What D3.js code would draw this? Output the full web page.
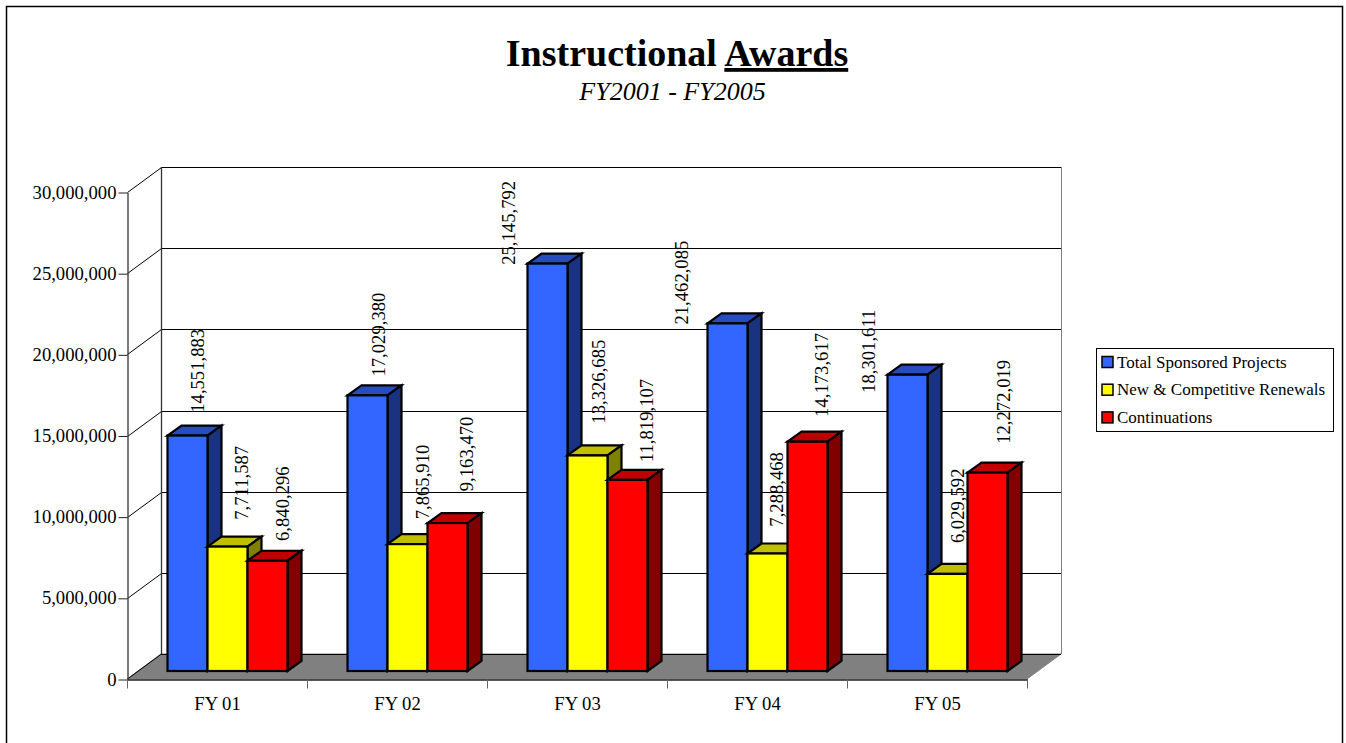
<!DOCTYPE html>
<html>
<head>
<meta charset="utf-8">
<title>Instructional Awards</title>
<script src="https://cdn.jsdelivr.net/npm/d3@7/dist/d3.min.js"></script>
<style>
  html, body { margin: 0; padding: 0; background: #fff; }
  svg { display: block; font-family: "Liberation Serif", "Times New Roman", serif; }
  text { fill: #000; }
</style>
</head>
<body>
<div id="chart"></div>
<script>
  /* --- dados ----------------------------------------------------------- */
  const years = ['FY 01', 'FY 02', 'FY 03', 'FY 04', 'FY 05'];
  const seriesNames = ['Total Sponsored Projects', 'New & Competitive Renewals', 'Continuations'];
  const totalSponsored = [14551883, 17029380, 25145792, 21462085, 18301611];
  const newCompetitive = [7711587, 7865910, 13326685, 7288468, 6029592];
  const continuations = [6840296, 9163470, 11819107, 14173617, 12272019];
  const yTicks = [0, 5000000, 10000000, 15000000, 20000000, 25000000, 30000000];

  /* --- cores: frente, topo, lado --------------------------------------- */
  const faces = [
    ['#3366ff', '#264cbf', '#1a3380'],
    ['#ffff00', '#bfbf00', '#808000'],
    ['#ff0000', '#bf0000', '#800000']
  ];
  const values = [totalSponsored, newCompetitive, continuations];

  /* deslocamento de cada rótulo: x a partir da esquerda da barra, y acima do topo */
  const labelDx = [[37, 38, -12, -19, -12], [41, 42, 38, 36, 37], [42, 46, 46, 41, 43]];
  const labelGap = [[22, 18, -2, -2, -19], [26, 24, 31, 26, 30], [19, 31, 17, 24, 28]];

  const W = 1346, H = 743;
  const plotL = 127, plotR = 1027, plotB = 679, plotT = 192;
  const wallDx = 34, wallDy = -25;     // profundidade das paredes
  const barDx = 14, barDy = -10;       // profundidade das barras
  const barW = 40;
  const tickFont = 18.67;

  const svg = d3.select('#chart').append('svg').attr('width', W).attr('height', H);

  const x = d3.scaleBand().domain(years).range([plotL, plotR]);
  const y = d3.scaleLinear().domain([0, 30000000]).range([plotB, plotT]);

  /* moldura: a borda inferior fica fora da página */
  svg.append('path').attr('d', 'M6.5,' + H + 'V6.5H1342.5V' + H)
    .attr('fill', 'none').attr('stroke', '#000').attr('stroke-width', 1.5);

  /* --- título ---------------------------------------------------------- */
  const title = svg.append('text').attr('x', 677).attr('y', 66)
    .attr('text-anchor', 'middle').attr('font-size', 38).attr('font-weight', 700);
  title.append('tspan').text('Instructional ');
  title.append('tspan').attr('text-decoration', 'underline').text('Awards');
  svg.append('text').attr('x', 672.5).attr('y', 100).attr('text-anchor', 'middle')
    .attr('font-size', 26).attr('font-style', 'italic').text('FY2001 - FY2005');

  /* --- paredes e piso -------------------------------------------------- */
  const p = (a, b) => a + ',' + b;
  svg.append('polygon')
    .attr('points', [p(plotL, plotB), p(plotL + wallDx, plotB + wallDy),
                     p(plotR + wallDx, plotB + wallDy), p(plotR, plotB)].join(' '))
    .attr('fill', '#808080').attr('stroke', '#808080');

  const grid = svg.append('g').attr('fill', 'none').attr('stroke', '#000');
  yTicks.slice(1).forEach(function (t) {
    const gy = Math.round(y(t));
    grid.append('polyline')
      .attr('points', [p(plotL + 0.5, gy + 0.5), p(plotL + wallDx + 0.5, gy + wallDy + 0.5),
                       p(plotR + wallDx, gy + wallDy + 0.5)].join(' '));
  });
  grid.append('line').attr('x1', plotL + wallDx + 0.5).attr('x2', plotL + wallDx + 0.5)
    .attr('y1', plotT + wallDy).attr('y2', plotB + wallDy).attr('stroke', '#333').attr('stroke-width', 1.3);
  grid.append('line').attr('x1', plotR + wallDx + 0.5).attr('x2', plotR + wallDx + 0.5)
    .attr('y1', plotT + wallDy).attr('y2', plotB + wallDy).attr('stroke', '#808080');
  grid.append('line').attr('x1', plotL + wallDx).attr('x2', plotR + wallDx)
    .attr('y1', plotB + wallDy + 0.5).attr('y2', plotB + wallDy + 0.5);
  grid.append('line').attr('x1', plotL + 0.5).attr('x2', plotL + wallDx + 0.5)
    .attr('y1', plotB).attr('y2', plotB + wallDy);

  /* --- eixos ----------------------------------------------------------- */
  const yAxis = svg.append('g').attr('transform', 'translate(' + (plotL + 0.5) + ',0.5)')
    .call(d3.axisLeft(y).tickValues(yTicks).tickFormat(d3.format(',')).tickSize(9).tickSizeOuter(0).tickPadding(2));
  const xAxis = svg.append('g').attr('transform', 'translate(0.5,' + (plotB + 0.5) + ')')
    .call(d3.axisBottom(x).tickSize(0).tickPadding(17));
  xAxis.selectAll('.edge').data(d3.range(years.length + 1)).join('line')
    .attr('class', 'edge').attr('stroke', '#666')
    .attr('x1', i => plotL + i * x.step()).attr('x2', i => plotL + i * x.step())
    .attr('y1', 0).attr('y2', 9);
  [yAxis, xAxis].forEach(function (a) {
    a.attr('font-family', null).attr('font-size', null);
    a.selectAll('text').attr('font-size', tickFont).attr('fill', '#000');
    a.selectAll('.tick line').attr('stroke', '#222');
  });
  yAxis.select('.domain').attr('stroke', '#333').attr('stroke-width', 1.3);
  xAxis.select('.domain').attr('stroke', '#222').attr('stroke-width', 1.3);
  yAxis.selectAll('text').attr('dy', '0.3em');

  /* --- barras 3D ------------------------------------------------------- */
  const shiftX = 40.5, shiftY = -8;    // recuo das barras sobre o piso
  const y0 = y(0) + shiftY;
  const bars = svg.append('g').attr('stroke', '#000').attr('stroke-width', 2.2).attr('stroke-linejoin', 'miter');
  const labels = svg.append('g');

  years.forEach(function (yr, i) {
    values.forEach(function (vals, s) {
      const bx = x(yr) + shiftX + s * barW;
      const ty = y(vals[i]) + shiftY;
      const drawnTop = ty + 0.8;       // a face da frente fica ~1px abaixo da escala
      const g = bars.append('g');
      g.append('polygon')
        .attr('points', [p(bx, drawnTop), p(bx + barDx, drawnTop + barDy), p(bx + barW + barDx, drawnTop + barDy), p(bx + barW, drawnTop)].join(' '))
        .attr('fill', faces[s][1]);
      g.append('polygon')
        .attr('points', [p(bx + barW, drawnTop), p(bx + barW + barDx, drawnTop + barDy), p(bx + barW + barDx, y0 + barDy), p(bx + barW, y0)].join(' '))
        .attr('fill', faces[s][2]);
      g.append('rect').attr('x', bx).attr('y', drawnTop).attr('width', barW).attr('height', y0 - drawnTop)
        .attr('fill', faces[s][0]);

      const lx = x(yr) + 40 + s * barW + labelDx[s][i], ly = ty - labelGap[s][i];
      labels.append('text')
        .attr('transform', 'translate(' + lx + ',' + ly + ') rotate(-90)')
        .attr('font-size', tickFont).text(d3.format(',')(vals[i]));
    });
  });

  /* --- legenda --------------------------------------------------------- */
  const legend = svg.append('g');
  legend.append('rect').attr('x', 1096.5).attr('y', 348.5).attr('width', 237).attr('height', 83)
    .attr('fill', '#fff').attr('stroke', '#000');
  seriesNames.forEach(function (name, s) {
    const ly = 362 + s * 27.7;
    legend.append('rect').attr('x', 1102).attr('y', ly - 5.5).attr('width', 11).attr('height', 11)
      .attr('fill', faces[s][0]).attr('stroke', '#000').attr('stroke-width', 1.5);
    legend.append('text').attr('x', 1117).attr('y', ly + 5.5).attr('font-size', 17).text(name);
  });
</script>
</body>
</html>
